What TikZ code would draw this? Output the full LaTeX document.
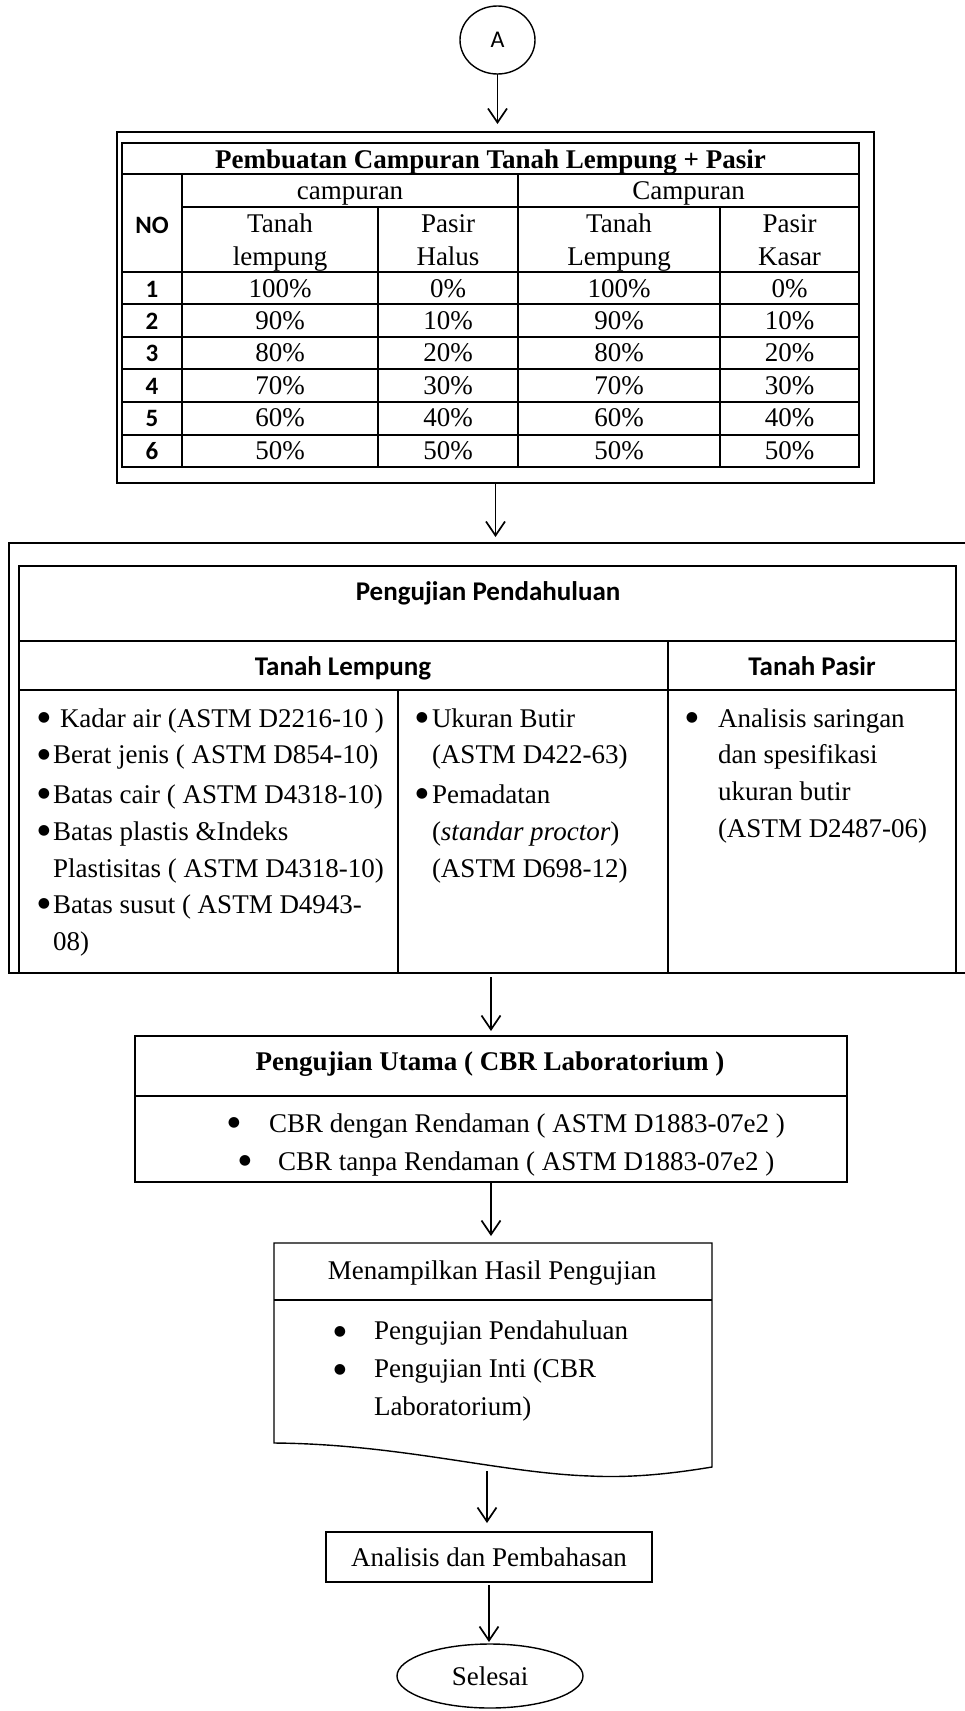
\documentclass[tikz,border=0pt]{standalone}
\usepackage{fontspec}
\setmainfont{Liberation Serif}
\newfontfamily\carl{Carlito}
\newfontfamily\dejavu{DejaVu Sans}
\usetikzlibrary{shapes.geometric,arrows.meta}
\tikzset{
  every node/.style={inner sep=0pt, outer sep=0pt, font=\fontsize{27}{37}\selectfont},
  thinl/.style={line width=1.4pt},
  thickl/.style={line width=2.8pt},
  arr/.style={line width=1.7pt, -{Straight Barb[length=14pt,width=19pt,line width=1.7pt]}},
  txt/.style={anchor=base},
  txtl/.style={anchor=base west},
  blt/.style={anchor=center, font=\dejavu\fontsize{14}{14}\selectfont},
  sansb/.style={anchor=base, font=\carl\bfseries\fontsize{27}{30}\selectfont},
  nofont/.style={anchor=base, font=\carl\bfseries\fontsize{25}{30}\selectfont},
  serifb/.style={anchor=base, font=\bfseries\fontsize{27}{30}\selectfont},
}
\begin{document}
\begin{tikzpicture}[x=1pt,y=-1pt]
\useasboundingbox (0,0) rectangle (965,1711);
\fill[white] (0,0) rectangle (965,1711);

% connector A
\node[draw, thinl, ellipse, minimum width=75pt, minimum height=68pt, font=\carl\fontsize{24}{24}\selectfont] (A) at (497.5,40) {A};

% ---------- table 1 ----------
\node[draw, thinl, minimum width=757pt, minimum height=351pt, anchor=north west] (mixbox) at (117,132) {};
\draw[thinl] (122,143) rectangle (859,467);
\draw[thinl] (122,174) -- (859,174);
\draw[thinl] (182,207) -- (859,207);
\draw[thickl] (122,272) -- (859,272);
\foreach \y in {304,337,369,402,435} \draw[thinl] (122,\y) -- (859,\y);
\draw[thickl] (182,174) -- (182,467);
\draw[thinl] (378,207) -- (378,467);
\draw[thinl] (518,174) -- (518,467);
\draw[thinl] (720,207) -- (720,467);

\node[serifb] (ttl) at (490.5,168) {Pembuatan Campuran Tanah Lempung + Pasir};
\node[txt] (h1) at (350,199) {campuran};
\node[txt] (h2) at (688.5,199) {Campuran};
\node[txt] (h3a) at (280,232) {Tanah};
\node[txt] (h3b) at (280,265) {lempung};
\node[txt] (h4a) at (448,232) {Pasir};
\node[txt] (h4b) at (448,265) {Halus};
\node[txt] (h5a) at (619,232) {Tanah};
\node[txt] (h5b) at (619,265) {Lempung};
\node[txt] (h6a) at (789.5,232) {Pasir};
\node[txt] (h6b) at (789.5,265) {Kasar};
\node[nofont] (no) at (152,233) {NO};
\foreach \a/\b [count=\i] in {100/0,90/10,80/20,70/30,60/40,50/50} {
  \pgfmathsetmacro\yy{297+32.4*(\i-1)}
  \node[nofont] (n\i) at (152,\yy) {\i};
  \node[txt] (a\i) at (280,\yy) {\a\%};
  \node[txt] (b\i) at (448,\yy) {\b\%};
  \node[txt] (c\i) at (619,\yy) {\a\%};
  \node[txt] (d\i) at (789.5,\yy) {\b\%};
}

% ---------- Pengujian Pendahuluan ----------
\node[minimum width=956pt, minimum height=430pt, anchor=north west] (pre) at (9,543) {};
\draw[thinl] (966,543) -- (9,543) -- (9,973) -- (966,973);
\draw[thinl] (19,566) rectangle (956,973);
\draw[thickl] (956,566) -- (956,973);
\draw[thinl] (19,641) -- (956,641);
\draw[thickl] (19,690) -- (956,690);
\draw[thickl] (668,641) -- (668,973);
\draw[thickl] (398,690) -- (398,973);

\node[sansb] (pp) at (488,600) {Pengujian Pendahuluan};
\node[sansb] (tl) at (343,675) {Tanah Lempung};
\node[sansb] (tp) at (812,675) {Tanah Pasir};

\node[blt] (bk1) at (44,718) {●};
\node[txtl] (k1) at (60,727) {Kadar air (ASTM D2216-10 )};
\node[blt] (bk2) at (44,755) {●};
\node[txtl] (k2) at (53,763) {Berat jenis ( ASTM D854-10)};
\node[blt] (bk3) at (44,794) {●};
\node[txtl] (k3) at (53,803) {Batas cair ( ASTM D4318-10)};
\node[blt] (bk4) at (44,831) {●};
\node[txtl] (k4) at (53,840) {Batas plastis \&Indeks};
\node[txtl] (k5) at (53,877) {Plastisitas ( ASTM D4318-10)};
\node[blt] (bk6) at (44,904) {●};
\node[txtl] (k6) at (53,913) {Batas susut ( ASTM D4943-};
\node[txtl] (k7) at (53,950) {08)};

\node[blt] (bu1) at (422,718) {●};
\node[txtl] (u1) at (432,727) {Ukuran Butir};
\node[txtl] (u2) at (432,763) {(ASTM D422-63)};
\node[blt] (bu3) at (422,794) {●};
\node[txtl] (u3) at (432,803) {Pemadatan};
\node[txtl] (u4) at (432,840) {(\textit{standar proctor})};
\node[txtl] (u5) at (432,877) {(ASTM D698-12)};

\node[blt] (bs1) at (692,718) {●};
\node[txtl] (s1) at (718,727) {Analisis saringan};
\node[txtl] (s2) at (718,763) {dan spesifikasi};
\node[txtl] (s3) at (718,800) {ukuran butir};
\node[txtl] (s4) at (718,837) {(ASTM D2487-06)};

% ---------- Pengujian Utama ----------
\node[draw, thinl, minimum width=712pt, minimum height=146pt, anchor=north west] (utama) at (135,1036) {};
\draw[thickl] (135,1096) -- (847,1096);
\node[serifb] (ut) at (490,1070) {Pengujian Utama ( CBR Laboratorium )};
\node[blt] (bc1) at (234,1123) {●};
\node[txtl] (cb1) at (269,1132) {CBR dengan Rendaman ( ASTM D1883-07e2 )};
\node[blt] (bc2) at (245,1161) {●};
\node[txtl] (cb2) at (278,1170) {CBR tanpa Rendaman ( ASTM D1883-07e2 )};

% ---------- document ----------
\node[minimum width=438pt, minimum height=228pt, anchor=north west] (doc) at (274,1243) {};
\draw[thinl] (274,1443) -- (274,1243) -- (712,1243) -- (712,1467)
  .. controls (670,1474) and (630,1478) .. (590,1476)
  .. controls (500,1473) and (400,1444) .. (274,1443) -- cycle;
\draw[thinl] (274,1300) -- (712,1300);
\coordinate (docb) at (487,1471);
\node[txt] (mh) at (492,1279) {Menampilkan Hasil Pengujian};
\node[blt] (bp1) at (340,1332) {●};
\node[txtl] (p1) at (374,1339) {Pengujian Pendahuluan};
\node[blt] (bp2) at (340,1370) {●};
\node[txtl] (p2) at (374,1377) {Pengujian Inti (CBR};
\node[txtl] (p3) at (374,1415) {Laboratorium)};

% ---------- analisis & selesai ----------
\node[draw, thinl, minimum width=326pt, minimum height=50pt] (an) at (489,1557) {Analisis dan Pembahasan};
\node[draw, thinl, ellipse, minimum width=186pt, minimum height=64pt] (sel) at (490,1676) {Selesai};

% ---------- connectors ----------
\draw[arr, shorten >=8pt] (A.south) -- (A.south |- mixbox.north);
\draw[arr, shorten >=6pt] (mixbox.south) -- (mixbox.south |- pre.north);
\draw[arr, shorten <=4pt, shorten >=5pt] (utama.north |- pre.south) -- (utama.north);
\draw[arr, shorten >=7pt] (utama.south) -- (utama.south |- doc.north);
\draw[arr, shorten >=9pt] (docb) -- (docb |- an.north);
\draw[arr, shorten <=3pt, shorten >=2pt] (an.south) -- (an.south |- sel.north);
\end{tikzpicture}
\end{document}
